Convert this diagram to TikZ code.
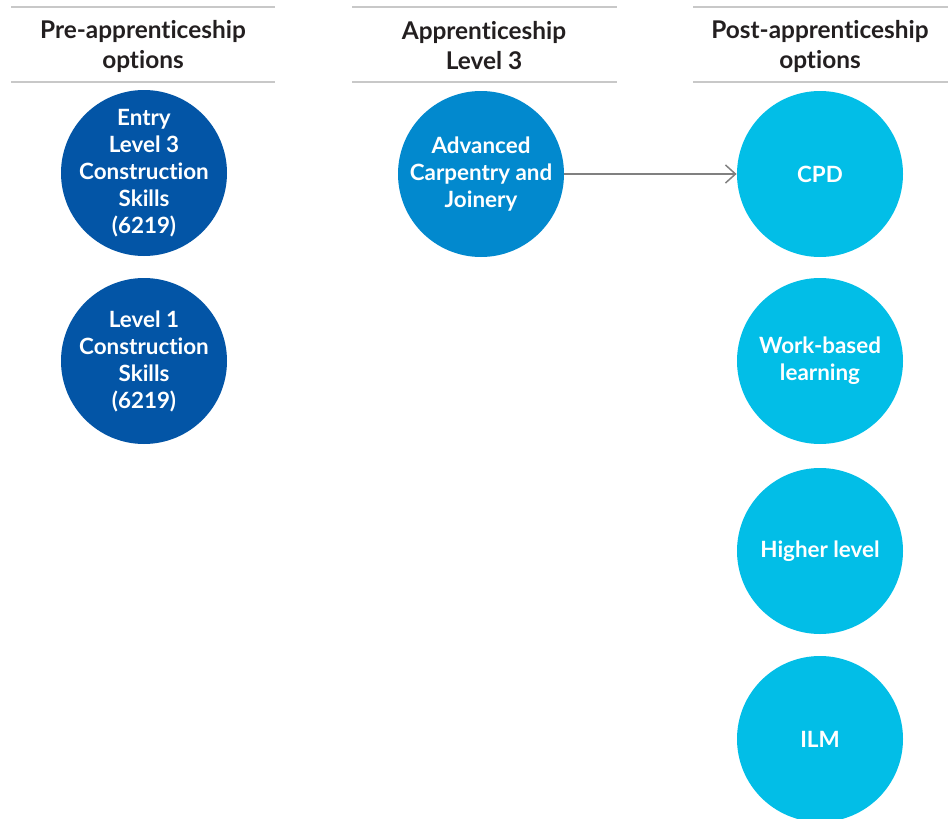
\documentclass[tikz,border=0pt]{standalone}
\usepackage{fontspec}
\setmainfont{Lato}[Ligatures=NoCommon]
\usetikzlibrary{arrows.meta}
\definecolor{darkblue}{HTML}{0355A6}
\definecolor{midblue}{HTML}{0289CE}
\definecolor{lightblue}{HTML}{02BEE7}
\definecolor{rulegrey}{HTML}{C8C8C8}
\definecolor{headtext}{HTML}{231F20}
\tikzset{
  option/.style={circle, minimum size=83pt, inner sep=0pt, text=white, align=center,
    font=\bfseries\fontsize{11.2}{13.5}\selectfont},
  preopt/.style={option, fill=darkblue},
  appopt/.style={option, fill=midblue},
  postopt/.style={option, fill=lightblue},
  heading/.style={align=center, text=headtext, font=\bfseries\fontsize{12.2}{15}\selectfont},
  headrule/.style={draw=rulegrey, line width=0.6pt}
}
\begin{document}
\begin{tikzpicture}[x=0.5pt, y=-0.5pt]
  \useasboundingbox (0,0) rectangle (948,819);
  % column headings
  \draw[headrule] (11,7) -- (275,7);
  \draw[headrule] (11,82) -- (275,82);
  \draw[headrule] (352,7) -- (617,7);
  \draw[headrule] (352,82) -- (617,82);
  \draw[headrule] (693,7) -- (948,7);
  \draw[headrule] (693,82) -- (948,82);
  \node[heading] (prehead) at (143,46) {Pre-apprenticeship\\options};
  \node[heading] (apphead) at (484,46) {Apprenticeship\\Level 3};
  \node[heading] (posthead) at (820,46) {Post-apprenticeship\\options};
  % pre-apprenticeship
  \node[preopt, inner sep=-8pt] (entry) at (144,173) {Entry\\Level 3\\Construction\\Skills\\(6219)};
  \node[preopt] (level1) at (144,361) {Level 1\\Construction\\Skills\\(6219)};
  % apprenticeship
  \node[appopt] (carpentry) at (481,174) {Advanced\\Carpentry and\\Joinery};
  % post-apprenticeship
  \node[postopt] (cpd) at (820,174) {CPD};
  \node[postopt] (work) at (820,361) {Work-based\\learning};
  \node[postopt] (higher) at (820,551) {Higher level};
  \node[postopt] (ilm) at (820,739) {ILM};
  \draw[draw=gray, line width=0.75pt, -{Straight Barb[length=5pt,width=9pt]}] (carpentry) -- (cpd);
\end{tikzpicture}
\end{document}
